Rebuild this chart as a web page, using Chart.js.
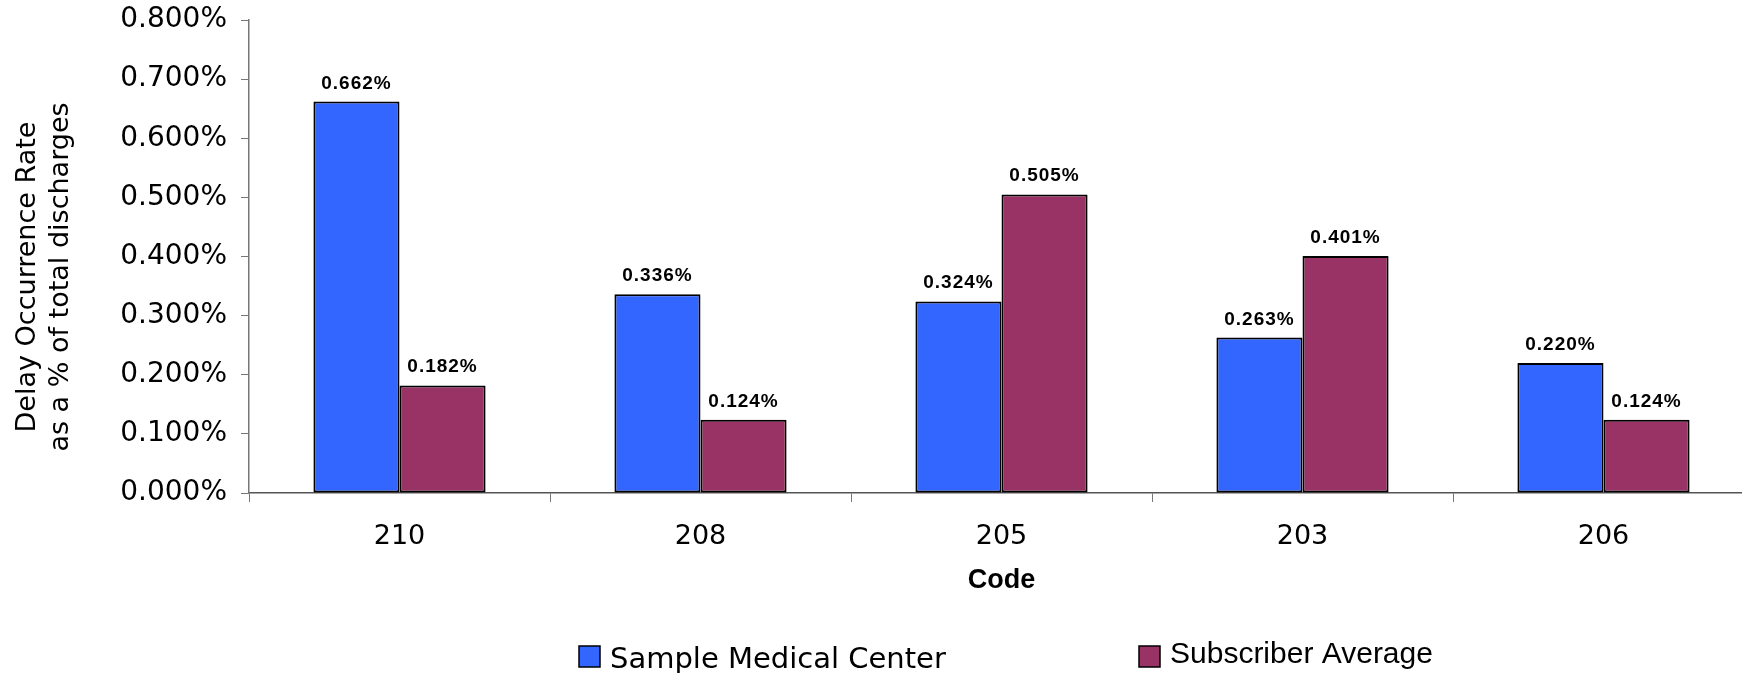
<!DOCTYPE html>
<html>
<head>
<meta charset="utf-8">
<script src="https://cdn.jsdelivr.net/npm/chart.js@4/dist/chart.umd.min.js"></script>
<style>
  html, body { margin: 0; background: #fff; overflow: hidden; }
</style>
</head>
<body>
<canvas id="myChart" width="1760" height="673"></canvas>
<script>
var codes = ["210", "208", "205", "203", "206"];
var sampleMedicalCenter = [0.662, 0.336, 0.324, 0.263, 0.220];
var subscriberAverage = [0.182, 0.124, 0.505, 0.401, 0.124];
var yTicks = [0, 0.1, 0.2, 0.3, 0.4, 0.5, 0.6, 0.7, 0.8];
var yTitle = ['Delay Occurrence Rate', 'as a % of total discharges'];

// value labels above bars
var barLabels = {
    id: 'barLabels',
    afterDatasetsDraw: function(chart) {
        var ctx = chart.ctx;
        ctx.save();
        ctx.font = 'bold 19px "Liberation Sans", Arial, sans-serif';
        ctx.letterSpacing = '1px';
        ctx.fillStyle = '#000';
        ctx.textAlign = 'center';
        ctx.textBaseline = 'alphabetic';
        chart.data.datasets.forEach(function(ds, i) {
            chart.getDatasetMeta(i).data.forEach(function(bar, j) {
                ctx.fillText(ds.data[j].toFixed(3) + '%', bar.x, bar.y - 13);
            });
        });
        ctx.restore();
    }
};

// rotated two-line y title (sits a bit below the plot centre in the original)
var sideTitle = {
    id: 'sideTitle',
    afterDraw: function(chart) {
        var ctx = chart.ctx;
        ctx.save();
        ctx.font = '27px "DejaVu Sans", Verdana, sans-serif';
        ctx.fillStyle = '#000';
        ctx.textAlign = 'center';
        ctx.textBaseline = 'alphabetic';
        ctx.translate(0, 277);
        ctx.rotate(-Math.PI / 2);
        ctx.fillText(yTitle[0], 0, 35);
        ctx.fillText(yTitle[1], 0, 68);
        ctx.restore();
    }
};

// legend drawn under the chart, like the original
var bottomLegend = {
    id: 'bottomLegend',
    afterDraw: function(chart) {
        var ctx = chart.ctx;
        var spots = [
            {x: 579, y: 646, base: 668, font: '29px "DejaVu Sans", Verdana, sans-serif'},
            {x: 1139, y: 646, base: 663, font: '30px "Liberation Sans", Arial, sans-serif'}
        ];
        ctx.save();
        ctx.textBaseline = 'alphabetic';
        chart.data.datasets.forEach(function(ds, i) {
            var p = spots[i];
            ctx.fillStyle = ds.backgroundColor;
            ctx.fillRect(p.x, p.y, 21, 21);
            ctx.strokeStyle = '#000';
            ctx.lineWidth = 1.5;
            ctx.strokeRect(p.x, p.y, 21, 21);
            ctx.font = p.font;
            ctx.fillStyle = '#000';
            ctx.fillText(ds.label, p.x + 31, p.base);
        });
        ctx.restore();
    }
};

var ctx = document.getElementById("myChart").getContext('2d');
var myChart = new Chart(ctx, {
    type: 'bar',
    data: {
        labels: codes,
        datasets: [{
            label: 'Sample Medical Center',
            data: sampleMedicalCenter,
            backgroundColor: '#3366FF',
            borderColor: '#000',
            borderWidth: 2,
            borderSkipped: false
        }, {
            label: 'Subscriber Average',
            data: subscriberAverage,
            backgroundColor: '#993366',
            borderColor: '#000',
            borderWidth: 2,
            borderSkipped: false
        }]
    },
    options: {
        responsive: false,
        maintainAspectRatio: false,
        devicePixelRatio: 1,
        animation: false,
        categoryPercentage: 0.572,
        barPercentage: 1.0,
        layout: {
            padding: { left: 0, right: 6, top: 20, bottom: 76 }
        },
        plugins: {
            legend: { display: false },
            tooltip: { enabled: false }
        },
        scales: {
            x: {
                grid: {
                    drawOnChartArea: false,
                    drawTicks: true,
                    tickLength: 9,
                    color: '#777',
                    offset: true
                },
                border: { color: '#555', width: 1.5 },
                ticks: {
                    color: '#000',
                    padding: 19,
                    font: { family: '"DejaVu Sans", Verdana, sans-serif', size: 27 }
                },
                title: {
                    display: true,
                    text: 'Code',
                    color: '#000',
                    padding: { top: 0, bottom: 0 },
                    font: { family: '"Liberation Sans", Arial, sans-serif', size: 27, weight: 'bold' }
                },
                afterFit: function(scale) { scale.height = 104; }
            },
            y: {
                min: 0,
                max: 0.8,
                afterBuildTicks: function(scale) {
                    scale.ticks = yTicks.map(function(v) { return { value: v }; });
                },
                grid: {
                    drawOnChartArea: false,
                    drawTicks: true,
                    tickLength: 8,
                    color: '#777'
                },
                border: { color: '#777', width: 1.5 },
                ticks: {
                    color: '#000',
                    padding: 14,
                    font: { family: '"DejaVu Sans", Verdana, sans-serif', size: 28 },
                    callback: function(v) { return Number(v).toFixed(3) + '%'; }
                },
                afterFit: function(scale) {
                    scale.width = 249;
                    scale.paddingTop = 0;
                    scale.paddingBottom = 0;
                }
            }
        }
    },
    plugins: [barLabels, sideTitle, bottomLegend]
});
</script>
</body>
</html>
